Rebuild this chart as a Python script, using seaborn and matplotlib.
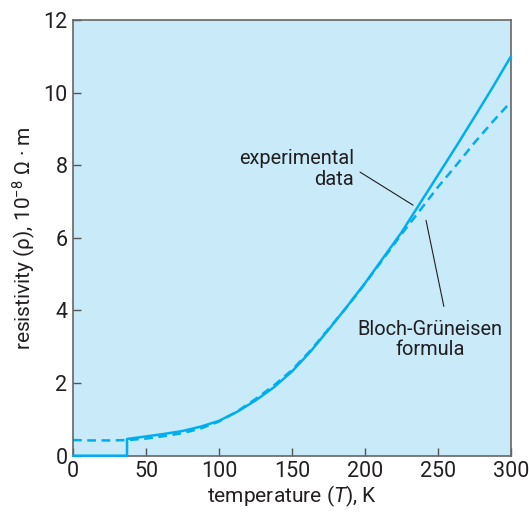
import matplotlib
matplotlib.use("Agg")
import matplotlib.pyplot as plt
import seaborn as sns
import pandas as pd

# Data
exp_T = [0, 37, 37, 50, 62.5, 75, 87.5, 100, 112.5, 125, 137.5, 150, 162.5, 175,
         187.5, 200, 212.5, 225, 237.5, 250, 262.5, 275, 287.5, 300]
exp_rho = [0, 0, 0.46, 0.53, 0.60, 0.68, 0.80, 0.96, 1.21, 1.52, 1.88, 2.32, 2.86, 3.47,
           4.10, 4.75, 5.45, 6.15, 6.94, 7.73, 8.52, 9.33, 10.15, 11.0]
bg_T = [0, 12.5, 25, 37.5, 50, 62.5, 75, 87.5, 100, 112.5, 125, 137.5, 150, 162.5,
        175, 187.5, 200, 212.5, 225, 237.5, 250, 262.5, 275, 287.5, 300]
bg_rho = [0.43, 0.42, 0.42, 0.43, 0.47, 0.54, 0.62, 0.75, 0.94, 1.22, 1.56, 1.93, 2.36, 2.89,
          3.49, 4.09, 4.74, 5.42, 6.10, 6.75, 7.40, 8.00, 8.62, 9.20, 9.75]
x_ticks = [0, 50, 100, 150, 200, 250, 300]
y_ticks = [0, 2, 4, 6, 8, 10, 12]

sns.set_style("ticks")
plt.rcParams['font.family'] = ['Roboto', 'DejaVu Sans']
plt.rcParams['mathtext.fontset'] = 'custom'
plt.rcParams['mathtext.rm'] = 'Roboto'
plt.rcParams['mathtext.it'] = 'Roboto:italic'

line_color = "#00aeef"
txt_color = "#231f20"

fig = plt.figure(figsize=(5.29, 5.12), dpi=100)
ax = fig.add_axes([0.138, 0.110, 0.828, 0.851])
ax.set_facecolor("#c8eaf9")

df_exp = pd.DataFrame({"T": exp_T, "rho": exp_rho})
df_bg = pd.DataFrame({"T": bg_T, "rho": bg_rho})
sns.lineplot(data=df_bg, x="T", y="rho", ax=ax, estimator=None, sort=False,
             color=line_color, lw=1.8, linestyle=(0, (3.5, 2.2)))
sns.lineplot(data=df_exp, x="T", y="rho", ax=ax, estimator=None, sort=False,
             color=line_color, lw=1.8)
for ln in ax.lines[-1:]:
    ln.set_clip_on(False)
    ln.set_zorder(5)

ax.set_xlim(0, 300)
ax.set_ylim(0, 12)
ax.set_xticks(x_ticks)
ax.set_yticks(y_ticks)
ax.tick_params(direction="in", length=6, width=1, color="#555555",
               labelsize=15.5, labelcolor=txt_color, pad=4)
for s in ax.spines.values():
    s.set_color("#666666")
    s.set_linewidth(1.2)

ax.set_xlabel("temperature ($\\mathit{T}$), K", fontsize=15, color=txt_color, labelpad=1)
ax.set_ylabel("resistivity (ρ), 10$^{\\mathrm{-8}}$ Ω · m", fontsize=15, color=txt_color, labelpad=4)

ax.text(192.5, 7.9, "experimental\ndata", ha="right", va="center", fontsize=14.4,
        color=txt_color, multialignment="right", linespacing=1.1)
ax.plot([196.6, 232.9], [7.81, 6.90], color=txt_color, lw=0.8)
ax.text(244.5, 3.2, "Bloch-Grüneisen\nformula", ha="center", va="center", fontsize=14.4,
        color=txt_color, multialignment="center", linespacing=1.1)
ax.plot([241.8, 254], [6.48, 4.11], color=txt_color, lw=0.8)

fig.savefig("out.png", dpi=100)
